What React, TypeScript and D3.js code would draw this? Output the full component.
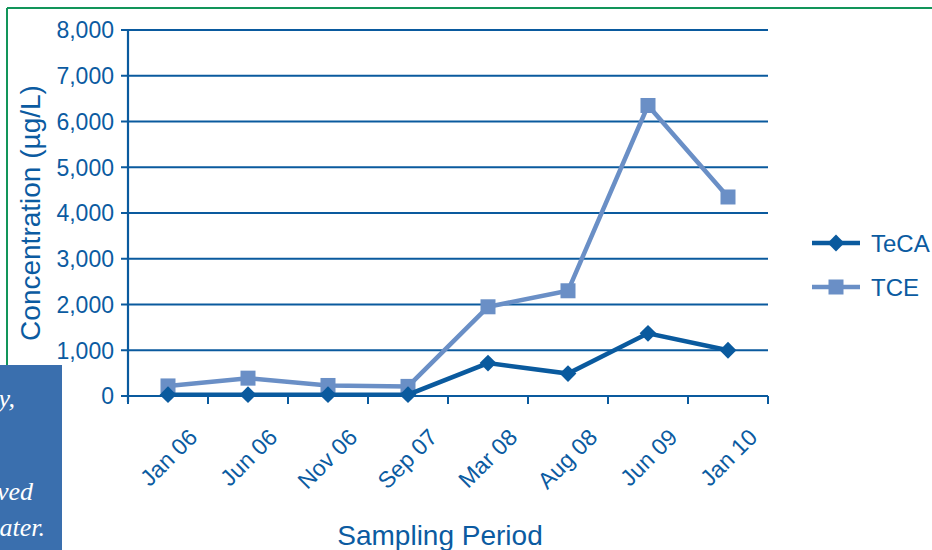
import React, { useEffect, useRef } from 'react'
import * as d3 from 'd3'

const periods = ['Jan 06', 'Jun 06', 'Nov 06', 'Sep 07', 'Mar 08', 'Aug 08', 'Jun 09', 'Jan 10']
const tecaValues = [30, 30, 30, 30, 720, 490, 1370, 1000]
const tceValues = [220, 390, 230, 210, 1950, 2300, 6350, 4350]
const yTicks = [0, 1000, 2000, 3000, 4000, 5000, 6000, 7000, 8000]
const sideNote = ['y,', 'ved', 'ater.']

const DARK = '#0a5a9e'
const LIGHT = '#6a8fc6'
const TEXT = '#0b5ba1'
const SANS = 'Liberation Sans, Arial, sans-serif'

export default function App() {
  const ref = useRef<SVGSVGElement>(null)

  useEffect(() => {
    const svg = d3.select(ref.current)
    svg.selectAll('*').remove()

    const left = 128
    const right = 768
    const top = 30
    const bottom = 396

    // frame pieces from the page around the chart
    svg.append('line').attr('x1', 7).attr('x2', 932).attr('y1', 8).attr('y2', 8)
      .attr('stroke', '#12955a').attr('stroke-width', 2)
    svg.append('line').attr('x1', 7).attr('x2', 7).attr('y1', 8).attr('y2', 366)
      .attr('stroke', '#12955a').attr('stroke-width', 2)
    svg.append('rect').attr('x', 0).attr('y', 365).attr('width', 62).attr('height', 185)
      .attr('fill', '#3a6fae')
    const noteY = [407, 500, 536]
    sideNote.forEach((t, i) => {
      svg.append('text').attr('x', [15, 33, 45][i]).attr('y', noteY[i])
        .attr('text-anchor', 'end')
        .attr('font-family', 'Liberation Serif, serif').attr('font-style', 'italic')
        .attr('font-size', 26).attr('fill', '#fff').text(t)
    })

    const x = d3.scaleBand().domain(periods).range([left, right])
    const y = d3.scaleLinear().domain([0, 8000]).range([bottom, top])

    const g = svg.append('g')

    // gridlines + y ticks
    g.selectAll('.grid').data(yTicks).enter().append('line')
      .attr('x1', left - 7).attr('x2', right)
      .attr('y1', d => y(d)).attr('y2', d => y(d))
      .attr('stroke', DARK).attr('stroke-width', 2.2)

    g.selectAll('.ylab').data(yTicks).enter().append('text')
      .attr('x', left - 14).attr('y', d => y(d)).attr('dy', '0.36em')
      .attr('text-anchor', 'end').attr('fill', TEXT)
      .attr('font-family', SANS).attr('font-size', 23)
      .text(d => d3.format(',')(d))

    // y axis
    g.append('line').attr('x1', left).attr('x2', left).attr('y1', top).attr('y2', bottom + 6)
      .attr('stroke', DARK).attr('stroke-width', 2.2)

    // x ticks
    const xTickPos = periods.map(p => x(p)!).concat([right])
    g.selectAll('.xt').data(xTickPos).enter().append('line')
      .attr('x1', d => d).attr('x2', d => d).attr('y1', bottom).attr('y2', bottom + 8)
      .attr('stroke', DARK).attr('stroke-width', 2)

    g.selectAll('.xlab').data(periods).enter().append('text')
      .attr('transform', d => `translate(${x(d)! + x.bandwidth() / 2 + 25}, ${bottom + 37}) rotate(-45)`)
      .attr('text-anchor', 'end').attr('dy', '0.35em').attr('fill', TEXT)
      .attr('font-family', SANS).attr('font-size', 23)
      .text(d => d)

    const cx = (p: string) => x(p)! + x.bandwidth() / 2
    const line = d3.line<number>().x((_, i) => cx(periods[i])).y(d => y(d))

    g.append('path').datum(tceValues).attr('d', line).attr('fill', 'none')
      .attr('stroke', LIGHT).attr('stroke-width', 4.5)
    g.selectAll('.sq').data(tceValues).enter().append('rect')
      .attr('x', (_, i) => cx(periods[i]) - 7.5).attr('y', d => y(d) - 7.5)
      .attr('width', 15).attr('height', 15).attr('fill', LIGHT)

    g.append('path').datum(tecaValues).attr('d', line).attr('fill', 'none')
      .attr('stroke', DARK).attr('stroke-width', 4.5)
    const diamond = d3.symbol().type(d3.symbolDiamond2).size(180)
    g.selectAll('.dm').data(tecaValues).enter().append('path')
      .attr('d', diamond)
      .attr('transform', (d, i) => `translate(${cx(periods[i])}, ${y(d)})`)
      .attr('fill', DARK)

    // axis titles
    svg.append('text').attr('transform', `translate(40, ${(top + bottom) / 2}) rotate(-90)`)
      .attr('text-anchor', 'middle').attr('fill', TEXT)
      .attr('font-family', SANS).attr('font-size', 28)
      .text('Concentration (µg/L)')
    svg.append('text').attr('x', 440).attr('y', 545)
      .attr('text-anchor', 'middle').attr('fill', TEXT)
      .attr('font-family', SANS).attr('font-size', 28)
      .text('Sampling Period')

    // legend
    const legend = [
      { name: 'TeCA', color: DARK, y: 243, marker: 'diamond' },
      { name: 'TCE', color: LIGHT, y: 287, marker: 'square' },
    ]
    legend.forEach(l => {
      svg.append('line').attr('x1', 812).attr('x2', 860).attr('y1', l.y).attr('y2', l.y)
        .attr('stroke', l.color).attr('stroke-width', 4.5)
      if (l.marker === 'diamond') {
        svg.append('path').attr('d', diamond).attr('transform', `translate(836, ${l.y})`)
          .attr('fill', l.color)
      } else {
        svg.append('rect').attr('x', 828.5).attr('y', l.y - 7.5).attr('width', 15).attr('height', 15)
          .attr('fill', l.color)
      }
      svg.append('text').attr('x', 871).attr('y', l.y).attr('dy', '0.36em').attr('fill', TEXT)
        .attr('font-family', SANS).attr('font-size', 24)
        .text(l.name)
    })
  }, [])

  return (
    <svg ref={ref} width={932} height={550}
      style={{ position: 'absolute', left: 0, top: 0, background: '#fff' }} />
  )
}
